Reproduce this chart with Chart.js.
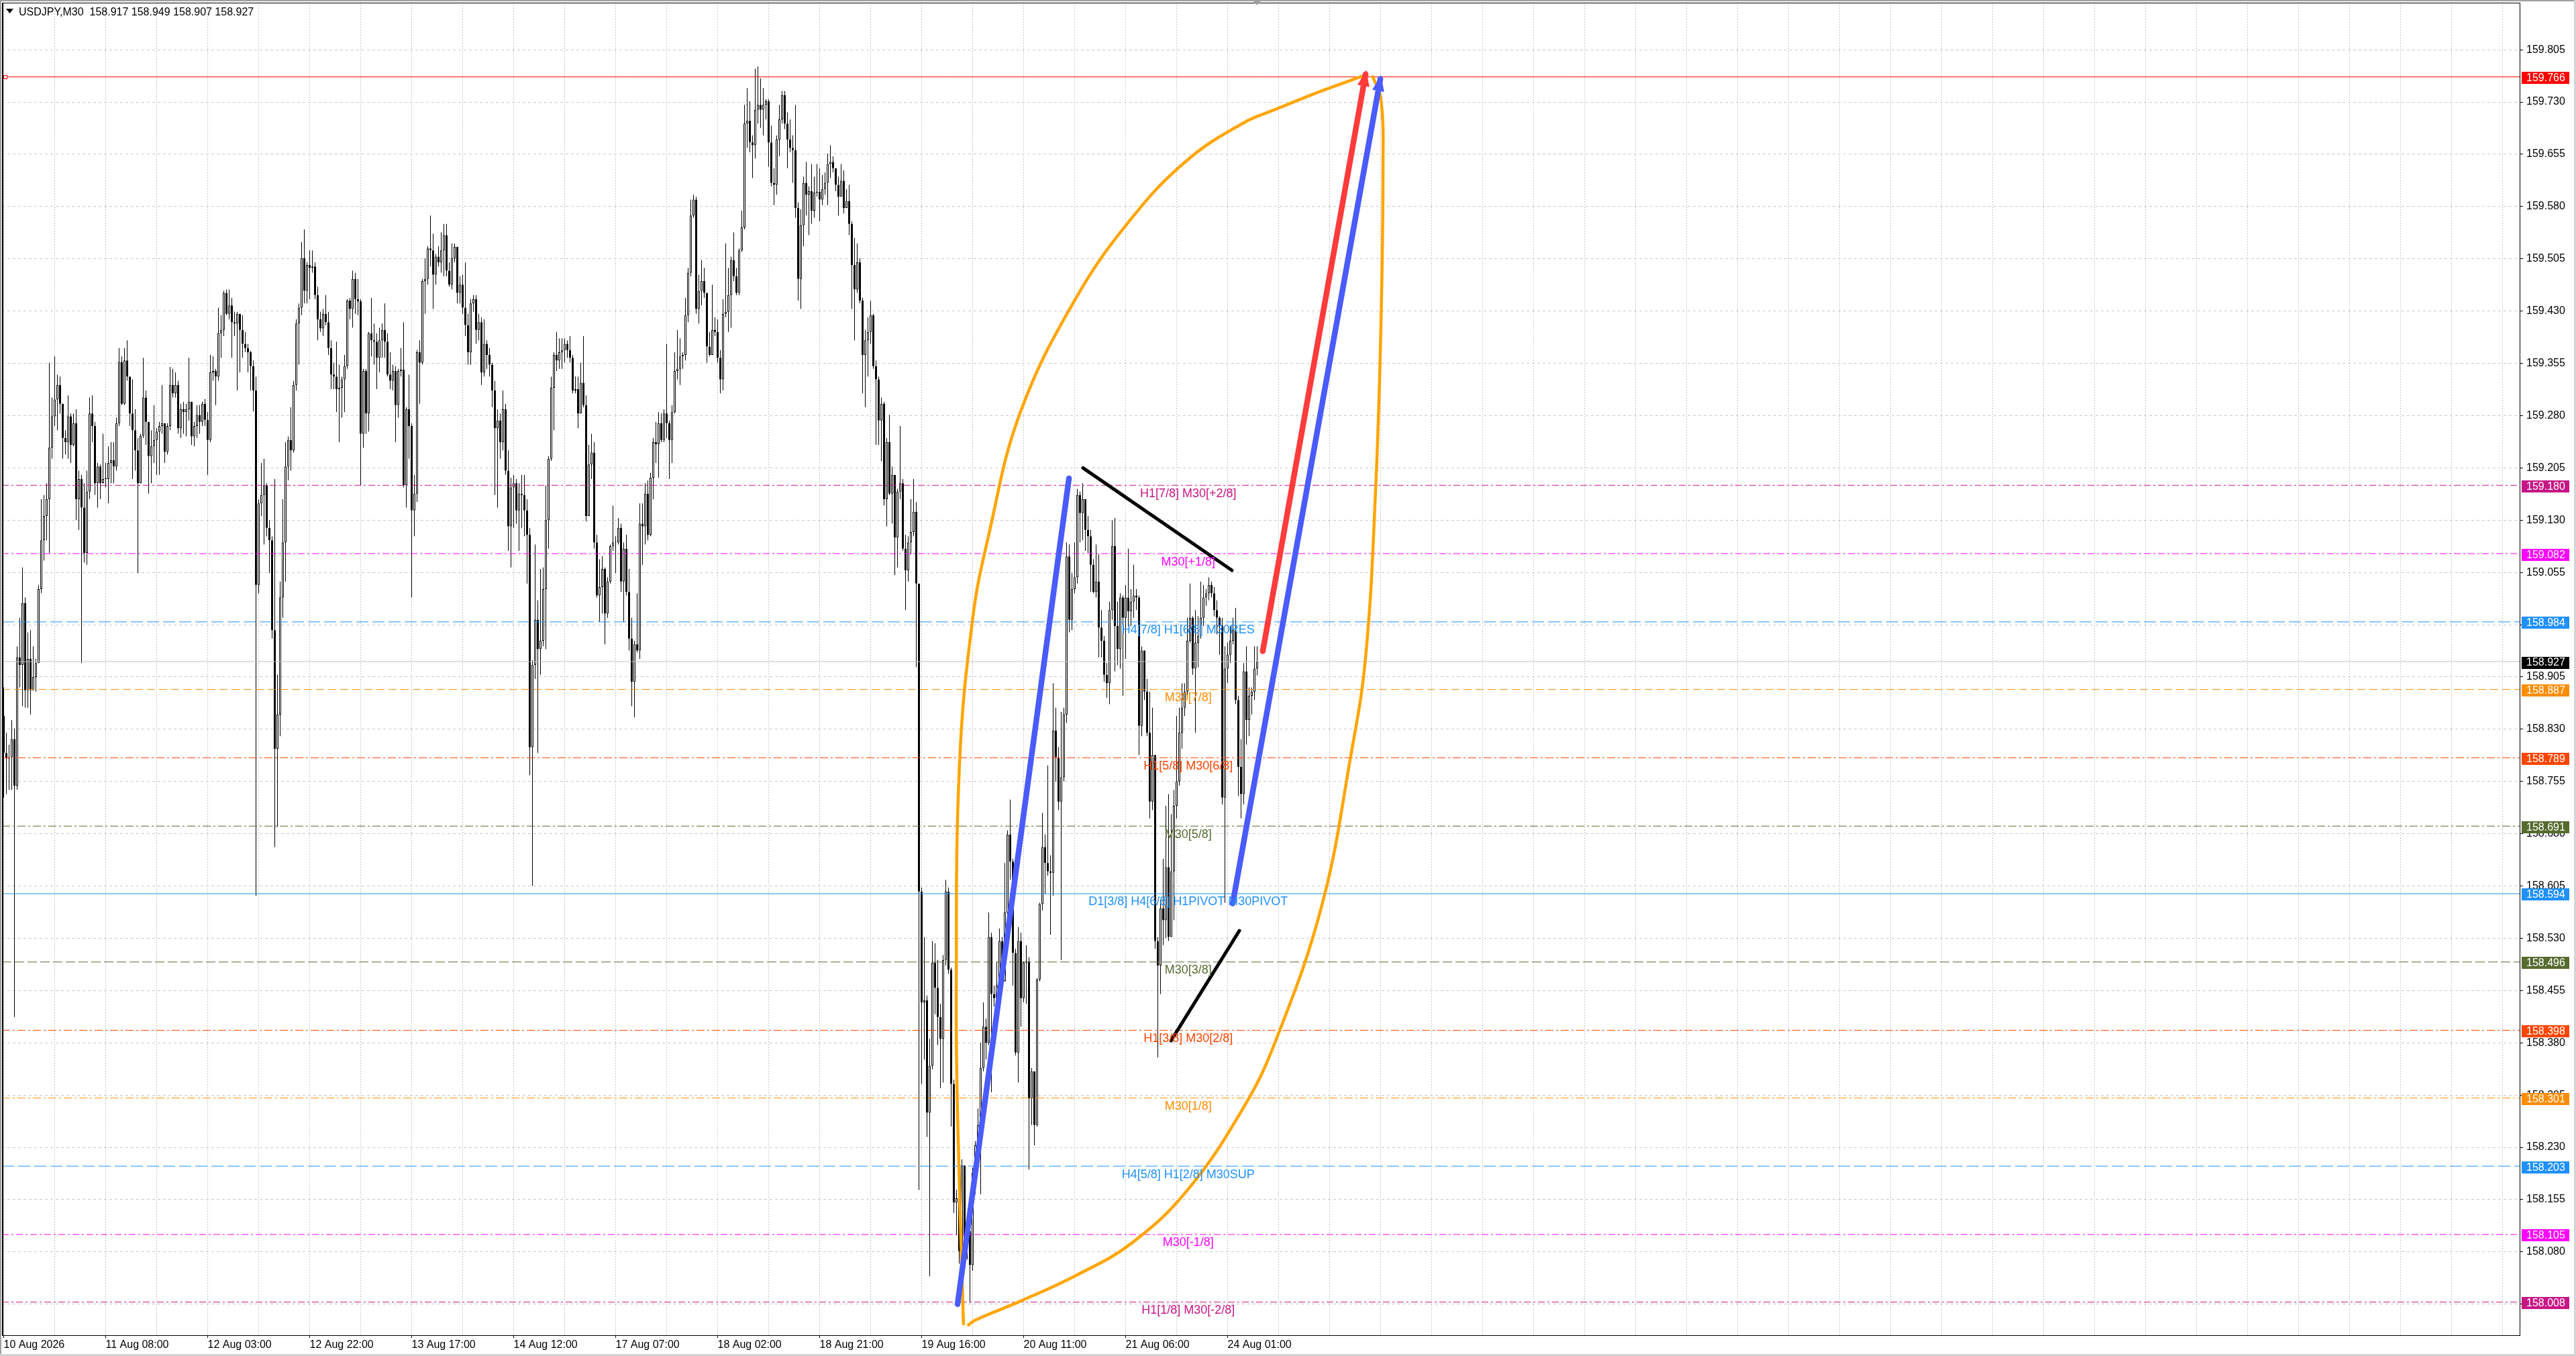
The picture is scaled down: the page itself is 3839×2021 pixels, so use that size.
<!DOCTYPE html>
<html><head><meta charset="utf-8">
<script src="https://cdn.jsdelivr.net/npm/chart.js"></script>
<style>html,body{margin:0;padding:0;background:#fff;overflow:hidden}canvas{display:block}</style>
</head><body>
<canvas id="c" width="3839" height="2021" style="width:3839px;height:2021px"></canvas>
<script>
// ---------- DATA ----------
const symbolTitle = 'USDJPY,M30  158.917 158.949 158.907 158.927';
const firstOpen = 158.849;
const closes = [
158.796,158.788,158.790,158.816,158.749,158.933,158.922,159.011,158.886,158.931,
158.886,158.905,158.925,159.031,159.101,159.136,159.160,159.234,159.279,159.303,
159.324,159.297,159.248,159.242,159.279,159.238,159.269,159.160,159.189,159.148,
159.083,159.171,159.283,159.265,159.183,159.207,159.183,159.189,159.189,159.212,
159.216,159.207,159.269,159.357,159.297,159.359,159.336,159.283,159.259,159.230,
159.183,159.251,159.306,159.271,159.222,159.236,159.245,159.257,159.265,159.269,
159.228,159.265,159.324,159.312,159.324,159.262,159.289,159.285,159.289,159.300,
159.250,159.265,159.281,159.271,159.297,159.274,159.245,159.342,159.344,159.336,
159.398,159.403,159.456,159.426,159.438,159.414,159.412,159.426,159.403,159.383,
159.377,159.371,159.351,159.316,159.037,159.154,159.166,159.180,159.119,159.101,
158.972,158.802,158.851,159.019,159.098,159.207,159.245,159.230,159.324,159.412,
159.435,159.506,159.459,159.496,159.492,159.494,159.453,159.418,159.405,159.426,
159.414,159.377,159.339,159.336,159.318,159.320,159.332,159.351,159.445,159.433,
159.476,159.447,159.444,159.254,159.344,159.283,159.398,159.388,159.386,159.363,
159.388,159.403,159.386,159.339,159.330,159.344,159.295,159.344,159.346,159.180,
159.289,159.265,159.144,159.168,159.371,159.356,159.473,159.476,159.520,159.517,
159.482,159.508,159.500,159.517,159.539,159.488,159.468,159.506,159.522,159.456,
159.468,159.435,159.410,159.371,159.441,159.447,159.403,159.414,159.342,159.383,
159.367,159.353,159.316,159.262,159.273,159.242,159.289,159.201,159.121,159.177,
159.183,159.144,159.168,159.166,159.144,159.109,158.804,158.922,158.987,158.945,
158.957,159.031,159.130,159.218,159.320,159.367,159.359,159.371,159.374,159.383,
159.374,159.363,159.316,159.318,159.283,159.327,159.295,159.136,159.210,159.227,
159.098,159.022,159.034,159.060,158.996,159.042,159.093,159.098,159.098,159.119,
159.042,159.089,159.027,158.960,158.898,158.952,158.943,159.125,159.121,159.168,
159.109,159.191,159.242,159.239,159.269,159.245,159.283,159.269,159.245,159.285,
159.344,159.347,159.365,159.367,159.424,159.485,159.567,159.590,159.433,159.459,
159.473,159.456,159.379,159.367,159.403,159.400,159.363,159.332,159.426,159.429,
159.453,159.503,159.480,159.456,159.517,159.550,159.699,159.703,159.672,159.668,
159.719,159.726,159.719,159.726,159.731,159.672,159.614,159.611,159.676,159.705,
159.740,159.699,159.676,159.664,159.661,159.578,159.476,159.553,159.614,159.597,
159.602,159.574,159.600,159.601,159.590,159.605,159.614,159.641,159.644,159.635,
159.611,159.594,159.617,159.578,159.588,159.555,159.496,159.461,159.500,159.445,
159.367,159.388,159.400,159.424,159.351,159.332,159.273,159.297,159.160,159.242,
159.168,159.195,159.105,159.171,159.183,159.089,159.058,159.098,159.113,159.142,
159.039,158.597,158.438,158.441,158.280,158.347,158.495,158.459,158.417,158.386,
158.499,158.597,158.485,158.321,158.151,158.157,158.081,158.204,158.092,158.110,
158.061,158.194,158.233,158.262,158.344,158.403,158.380,158.532,158.450,158.444,
158.462,158.526,158.468,158.567,158.679,158.640,158.509,158.366,158.526,158.444,
158.495,158.497,158.300,158.339,158.262,158.471,158.579,158.661,158.638,158.626,
158.624,158.828,158.790,158.726,158.761,158.851,159.078,158.987,159.031,159.048,
159.166,159.140,159.160,159.116,159.107,159.066,159.027,159.042,158.976,158.957,
158.908,158.896,159.001,159.093,158.978,158.945,159.019,158.990,159.019,158.999,
159.013,159.022,159.019,158.835,158.943,158.884,158.825,158.726,158.793,158.526,
158.491,158.573,158.556,158.632,158.532,158.626,158.720,158.755,158.825,158.861,
158.884,158.957,158.990,158.917,158.954,158.964,158.990,159.019,159.025,159.037,
159.025,159.001,158.990,158.978,158.732,158.917,158.937,158.957,158.972,158.872,
158.776,158.737,158.913,158.843,158.878,158.884,158.917,158.927];
const highs = [
158.890,158.825,158.808,158.843,158.831,158.949,158.990,159.062,159.019,158.969,
158.972,158.949,158.931,159.037,159.160,159.166,159.183,159.356,159.306,159.365,
159.339,159.336,159.271,159.259,159.309,159.283,159.283,159.289,159.201,159.195,
159.183,159.201,159.306,159.309,159.271,159.212,159.210,159.254,159.212,159.236,
159.242,159.242,159.277,159.377,159.365,159.377,159.388,159.336,159.332,159.289,
159.248,159.254,159.363,159.316,159.271,159.259,159.295,159.262,159.271,159.324,
159.259,159.269,159.350,159.347,159.342,159.330,159.297,159.300,159.297,159.363,
159.277,159.271,159.295,159.295,159.300,159.304,159.285,159.367,159.365,159.347,
159.435,159.424,159.459,159.461,159.461,159.449,159.429,159.429,159.426,159.424,
159.400,159.383,159.373,159.359,159.336,159.160,159.212,159.218,159.183,159.130,
159.107,159.189,158.908,159.042,159.160,159.242,159.250,159.292,159.330,159.418,
159.441,159.529,159.547,159.500,159.517,159.517,159.500,159.465,159.429,159.433,
159.453,159.429,159.388,159.356,159.386,159.353,159.336,159.367,159.447,159.449,
159.488,159.485,159.476,159.447,159.347,159.347,159.400,159.449,159.412,159.398,
159.406,159.412,159.441,159.398,159.371,159.353,159.351,159.347,159.377,159.414,
159.292,159.339,159.269,159.195,159.374,159.388,159.476,159.506,159.523,159.567,
159.541,159.512,159.523,159.543,159.555,159.555,159.500,159.527,159.527,159.515,
159.480,159.482,159.500,159.426,159.447,159.453,159.453,159.426,159.421,159.418,
159.388,159.377,159.356,159.330,159.289,159.283,159.316,159.297,159.230,159.191,
159.195,159.189,159.183,159.195,159.195,159.160,159.119,158.929,159.095,159.015,
159.060,159.062,159.180,159.222,159.336,159.371,159.400,159.391,159.391,159.391,
159.388,159.394,159.367,159.336,159.336,159.356,159.394,159.309,159.238,159.254,
159.242,159.109,159.074,159.078,159.062,159.048,159.095,159.151,159.107,159.133,
159.125,159.098,159.109,159.060,158.990,158.957,159.025,159.154,159.154,159.183,
159.187,159.198,159.248,159.271,159.285,159.283,159.289,159.383,159.273,159.295,
159.371,159.403,159.391,159.371,159.449,159.492,159.590,159.597,159.594,159.482,
159.503,159.492,159.438,159.400,159.468,159.421,159.418,159.374,159.447,159.527,
159.492,159.508,159.543,159.492,159.520,159.574,159.726,159.750,159.731,159.682,
159.778,159.781,159.764,159.750,159.734,159.734,159.696,159.635,159.682,159.726,
159.746,159.746,159.715,159.705,159.682,159.726,159.586,159.576,159.623,159.644,
159.609,159.641,159.623,159.641,159.635,159.625,159.629,159.656,159.668,159.652,
159.635,159.623,159.641,159.632,159.605,159.611,159.559,159.535,159.527,159.506,
159.449,159.403,159.421,159.445,159.426,159.359,159.336,159.306,159.300,159.248,
159.281,159.207,159.177,159.175,159.265,159.189,159.109,159.107,159.160,159.189,
159.156,159.039,158.603,158.532,158.448,158.386,158.526,158.523,158.499,158.436,
158.506,158.614,158.603,158.488,158.327,158.169,158.159,158.213,158.204,158.122,
158.110,158.201,158.239,158.286,158.380,158.438,158.415,158.567,158.538,158.462,
158.497,158.544,158.532,158.638,158.685,158.729,158.644,158.515,158.546,158.538,
158.497,158.520,158.503,158.344,158.339,158.473,158.581,158.710,158.679,158.778,
158.649,158.896,158.861,158.804,158.855,158.861,159.098,159.095,159.054,159.098,
159.175,159.171,159.183,159.160,159.136,159.116,159.074,159.095,159.081,159.001,
158.964,158.925,159.013,159.130,159.133,159.013,159.025,159.022,159.037,159.089,
159.031,159.066,159.031,159.022,158.949,158.925,158.902,158.884,158.861,158.790,
158.532,158.585,158.644,158.720,158.737,158.708,158.743,158.849,158.861,158.896,
158.896,158.990,159.039,158.992,159.001,158.992,159.042,159.037,159.031,159.048,
159.042,159.034,159.015,158.992,158.990,158.949,158.954,158.978,158.990,159.004,
158.878,158.816,158.925,158.949,158.890,158.890,158.949,158.949];
const lows = [
158.732,158.737,158.743,158.743,158.417,158.743,158.890,158.863,158.861,158.861,
158.851,158.896,158.884,158.925,159.025,159.072,159.101,159.083,159.218,159.265,
159.259,159.283,159.218,159.224,159.218,159.212,159.236,159.130,159.116,158.925,
159.069,159.066,159.160,159.242,159.166,159.148,159.160,159.183,159.177,159.154,
159.183,159.183,159.201,159.265,159.295,159.295,159.330,159.265,159.189,159.201,
159.054,159.183,159.248,159.238,159.168,159.183,159.212,159.195,159.195,159.254,
159.212,159.224,159.259,159.306,159.306,159.254,159.248,159.254,159.250,159.273,
159.238,159.236,159.248,159.254,159.265,159.265,159.195,159.242,159.330,159.295,
159.330,159.363,159.394,159.424,159.418,159.363,159.394,159.316,159.342,159.363,
159.371,159.342,159.316,159.286,158.591,159.025,159.136,159.095,159.107,159.054,
158.960,158.661,158.690,158.820,158.990,159.042,159.187,159.201,159.227,159.316,
159.353,159.424,159.441,159.441,159.447,159.485,159.447,159.388,159.400,159.394,
159.410,159.367,159.318,159.318,159.285,159.242,159.277,159.285,159.347,159.418,
159.406,159.426,159.424,159.180,159.234,159.254,159.257,159.365,159.353,159.318,
159.342,159.363,159.363,159.336,159.318,159.316,159.242,159.277,159.336,159.177,
159.148,159.218,159.019,159.107,159.156,159.297,159.353,159.426,159.468,159.494,
159.433,159.468,159.494,159.485,159.480,159.480,159.465,159.461,159.500,159.441,
159.441,159.426,159.394,159.353,159.353,159.429,159.383,159.388,159.324,159.336,
159.347,159.336,159.292,159.166,159.148,159.218,159.230,159.195,159.086,159.062,
159.119,159.125,159.086,159.119,159.107,159.039,158.764,158.605,158.902,158.796,
158.908,158.949,158.945,159.089,159.215,159.259,159.344,159.347,159.347,159.356,
159.363,159.356,159.312,159.312,159.262,159.283,159.292,159.128,159.136,159.189,
159.089,159.019,158.984,158.996,158.952,158.990,159.039,159.086,159.054,159.095,
159.027,158.984,159.022,158.943,158.863,158.847,158.940,158.931,159.066,159.095,
159.101,159.107,159.160,159.212,159.191,159.242,159.242,159.248,159.189,159.212,
159.283,159.332,159.324,159.347,159.359,159.414,159.480,159.564,159.426,159.412,
159.438,159.449,159.356,159.365,159.386,159.394,159.356,159.312,159.316,159.421,
159.400,159.406,159.473,159.453,159.453,159.515,159.547,159.664,159.658,159.621,
159.649,159.699,159.693,159.682,159.705,159.637,159.609,159.582,159.597,159.652,
159.699,159.691,159.635,159.658,159.614,159.564,159.445,159.433,159.523,159.567,
159.539,159.555,159.564,159.594,159.559,159.582,159.597,159.582,159.621,159.629,
159.602,159.567,159.605,159.570,159.578,159.539,159.433,159.388,159.456,159.441,
159.312,159.292,159.336,159.383,159.347,159.238,159.238,159.215,159.151,159.121,
159.166,159.125,159.051,159.062,159.160,159.086,159.001,159.042,159.081,159.107,
158.919,158.169,158.321,158.356,158.245,158.045,158.342,158.421,158.377,158.315,
158.323,158.491,158.479,158.260,158.136,158.104,158.063,158.016,158.075,158.069,
158.007,158.053,158.163,158.227,158.163,158.339,158.356,158.377,158.309,158.432,
158.438,158.456,158.462,158.468,158.556,158.614,158.462,158.362,158.323,158.403,
158.438,158.436,158.198,158.262,158.233,158.260,158.468,158.570,158.593,158.620,
158.535,158.591,158.755,158.714,158.499,158.755,158.839,158.969,158.972,159.025,
159.039,159.098,159.101,159.086,159.083,159.027,159.025,159.019,158.933,158.933,
158.898,158.875,158.866,158.987,158.913,158.922,158.917,158.878,158.931,158.978,
158.978,158.990,159.001,158.793,158.820,158.872,158.820,158.702,158.714,158.515,
158.359,158.450,158.520,158.530,158.526,158.532,158.556,158.702,158.749,158.802,
158.849,158.878,158.954,158.908,158.825,158.919,158.960,158.978,159.007,159.015,
159.019,158.992,158.966,158.937,158.722,158.581,158.896,158.925,158.952,158.866,
158.734,158.702,158.722,158.808,158.820,158.851,158.872,158.907];

const timeLabels = ['10 Aug 2026','11 Aug 08:00','12 Aug 03:00','12 Aug 22:00','13 Aug 17:00','14 Aug 12:00','17 Aug 07:00','18 Aug 02:00','18 Aug 21:00','19 Aug 16:00','20 Aug 11:00','21 Aug 06:00','24 Aug 01:00'];
const barsPerLabel = 38, barsPerGrid = 19;
const yTickValues = [158.005,158.080,158.155,158.230,158.305,158.380,158.455,158.530,158.605,158.680,158.755,158.830,158.905,158.980,159.055,159.130,159.205,159.280,159.355,159.430,159.505,159.580,159.655,159.730,159.805];

const levelPrices = [159.766,159.180,159.082,158.984,158.927,158.887,158.789,158.691,158.594,158.496,158.398,158.301,158.203,158.105,158.008];
const levelTexts  = ['','H1[7/8] M30[+2/8]','M30[+1/8]','H4[7/8] H1[6/8] M30RES','','M30[7/8]','H1[5/8] M30[6/8]','M30[5/8]','D1[3/8] H4[6/8] H1PIVOT M30PIVOT','M30[3/8]','H1[3/8] M30[2/8]','M30[1/8]','H4[5/8] H1[2/8] M30SUP','M30[-1/8]','H1[1/8] M30[-2/8]'];
const levelColors = ['#ff0000','#c71585','#ff00ff','#1e90ff','#c0c0c0','#ff8c00','#ff4500','#556b2f','#1e90ff','#556b2f','#ff4500','#ff8c00','#1e90ff','#ff00ff','#c71585'];
const levelBoxColors = ['#ff0000','#c71585','#ff00ff','#1e90ff','#000000','#ff8c00','#ff4500','#556b2f','#1e90ff','#556b2f','#ff4500','#ff8c00','#1e90ff','#ff00ff','#c71585'];
const levelDashes = [[],[10,4,3,4],[10,4,3,4],[18,6],[],[12,6],[12,4,3,4],[12,4,3,4],[],[14,5],[12,4,3,4],[12,4,3,4],[18,6],[10,4,3,4],[10,4,3,4]];
const levelTextBar = 441.3;

// drawn objects (bar index, price)
const arcUpperBars   = [357.6,355.4,354.9,356.1,361.1,366.9,378.6,399.4,420.4,441.1,461.9,473.6,491.1,508.4];
const arcUpperPrices = [157.975,158.275,158.450,158.779,158.991,159.107,159.283,159.448,159.564,159.647,159.700,159.719,159.746,159.770];
const arcLowerBars   = [359.1,361.9,378.6,399.4,420.4,441.1,461.9,473.6,491.1,501.9,507.4,511.1,513.1,513.9,513.1,509.9];
const arcLowerPrices = [157.974,157.982,158.009,158.046,158.093,158.169,158.287,158.380,158.577,158.792,158.933,159.170,159.405,159.640,159.735,159.768];
const blueLineA = [[355.4,158.005],[396.9,159.190]];
const blueLineB = [[457.9,158.580],[512.9,159.763]];
const redLine   = [[469.1,158.942],[507.4,159.770]];
const blackLineA = [[402.1,159.205],[457.6,159.058]];
const blackLineB = [[434.9,158.383],[460.4,158.541]];

// ---------- BUILD ----------
const X_MIN = -0.625, X_MAX = 937.625;
const opens = closes.map((c,i)=> i===0 ? firstOpen : closes[i-1]);
const wickData = closes.map((c,i)=>({x:i, y:[Math.min(lows[i],opens[i],c), Math.max(highs[i],opens[i],c)]}));
const bodyData = closes.map((c,i)=>({x:i, y:[opens[i], c]}));
const bodyFill = closes.map((c,i)=> c>=opens[i] ? '#ffffff' : '#000000');
const pts = a => a.map(p=>({x:p[0], y:p[1]}));
const zip = (xs,ys) => xs.map((v,k)=>({x:v, y:ys[k]}));

const datasets = [];
datasets.push({type:'bar', data:wickData, backgroundColor:'#000', borderWidth:0, barThickness:1, grouped:false, inflateAmount:0, order:20});
datasets.push({type:'bar', data:bodyData, backgroundColor:bodyFill, borderColor:'#000', borderWidth:1, borderSkipped:false, barThickness:3, minBarLength:1, grouped:false, inflateAmount:0, order:19});
levelPrices.forEach((p,k)=>{
  datasets.push({type:'line', data:[{x:X_MIN,y:p},{x:X_MAX,y:p}], borderColor:levelColors[k], borderWidth:1, borderDash:levelDashes[k], pointRadius:0, fill:false, order:10});
});
datasets.push({type:'line', data:zip(arcUpperBars,arcUpperPrices), borderColor:'#ffa500', borderWidth:4.5, tension:0.4, pointRadius:0, fill:false, order:3});
datasets.push({type:'line', data:zip(arcLowerBars,arcLowerPrices), borderColor:'#ffa500', borderWidth:4.5, tension:0.4, pointRadius:0, fill:false, order:3});
[[blackLineA,'#000000',5],[blackLineB,'#000000',5],[blueLineA,'#4a5bff',8.5],[blueLineB,'#4a5bff',8.5],[redLine,'#ff3b3b',8.5]].forEach(([l,c,w])=>{
  datasets.push({type:'line', data:pts(l), borderColor:c, borderWidth:w, borderCapStyle:'round', pointRadius:0, fill:false, tension:0, order:2});
});

const FONT = '"Liberation Sans", Arial, sans-serif';
Chart.defaults.font.family = FONT;
Chart.defaults.font.size = 16;
Chart.defaults.color = '#000';

function arrowHead(ctx, xs, ys, seg, color){
  const x0 = xs.getPixelForValue(seg[0][0]), y0 = ys.getPixelForValue(seg[0][1]);
  const x1 = xs.getPixelForValue(seg[1][0]), y1 = ys.getPixelForValue(seg[1][1]);
  const a = Math.atan2(y1-y0, x1-x0);
  const L = 24, W = 9;
  const tx = x1 + Math.cos(a)*6, ty = y1 + Math.sin(a)*6;
  ctx.beginPath();
  ctx.moveTo(tx, ty);
  ctx.lineTo(tx - L*Math.cos(a) + W*Math.sin(a), ty - L*Math.sin(a) - W*Math.cos(a));
  ctx.lineTo(tx - L*Math.cos(a) - W*Math.sin(a), ty - L*Math.sin(a) + W*Math.cos(a));
  ctx.closePath();
  ctx.fillStyle = color; ctx.fill();
}

const overlay = {
  id:'overlay',
  afterDatasetsDraw(chart){
    const {ctx, chartArea:ca} = chart; const xs = chart.scales.x, ys = chart.scales.y;
    ctx.save();
    ctx.beginPath(); ctx.rect(ca.left, ca.top, ca.right-ca.left, ca.bottom-ca.top); ctx.clip();
    ctx.font = '18px ' + FONT; ctx.textAlign = 'center'; ctx.textBaseline = 'alphabetic';
    const tx = xs.getPixelForValue(levelTextBar);
    levelPrices.forEach((p,k)=>{
      if(!levelTexts[k]) return;
      ctx.fillStyle = levelColors[k];
      ctx.fillText(levelTexts[k], tx, ys.getPixelForValue(p) + 17.5);
    });
    arrowHead(ctx, xs, ys, redLine, '#ff3b3b');
    arrowHead(ctx, xs, ys, blueLineB, '#4a5bff');
    ctx.restore();
  },
  afterDraw(chart){
    const {ctx, chartArea:ca} = chart; const ys = chart.scales.y; const xs = chart.scales.x;
    ctx.save();
    ctx.fillStyle = '#a0a0a0';
    ctx.fillRect(0,0,3839,2); ctx.fillRect(0,0,2,2021);
    ctx.fillStyle = '#d4d4d4'; ctx.fillRect(0,2018,3839,3); ctx.fillRect(3836,0,3,2021);
    ctx.strokeStyle = '#000'; ctx.lineWidth = 1;
    ctx.strokeRect(ca.left+0.5, ca.top+0.5, ca.right-ca.left-1, ca.bottom-ca.top);
    ctx.fillStyle='#000'; ctx.fillRect(ca.left, ca.top, 2, ca.bottom-ca.top);
    const ry = ys.getPixelForValue(levelPrices[0]);
    ctx.strokeStyle = '#ff0000'; ctx.fillStyle='#fff';
    ctx.fillRect(5.5, Math.round(ry)-2.5, 5, 5); ctx.strokeRect(5.5, Math.round(ry)-2.5, 5, 5);
    const sx = xs.getPixelForValue(closes.length-1);
    ctx.fillStyle = '#a0a0a0';
    ctx.beginPath(); ctx.moveTo(sx-6,1); ctx.lineTo(sx+6,1); ctx.lineTo(sx,8); ctx.closePath(); ctx.fill();
    ctx.font = '16px ' + FONT; ctx.textAlign='left'; ctx.textBaseline='middle';
    levelPrices.forEach((p,k)=>{
      const yc = ys.getPixelForValue(p) + 1.5;
      ctx.fillStyle = levelBoxColors[k];
      ctx.fillRect(ca.right+2, Math.round(yc-9), 71, 18);
      ctx.fillStyle = '#ffffff';
      ctx.fillText(p.toFixed(3), ca.right+9, yc+0.5);
    });
    ctx.fillStyle = '#000';
    ctx.beginPath(); ctx.moveTo(9,13); ctx.lineTo(20,13); ctx.lineTo(14.5,20); ctx.closePath(); ctx.fill();
    ctx.font = '16px ' + FONT; ctx.textBaseline='alphabetic'; ctx.textAlign='left';
    ctx.fillText(symbolTitle, 28, 23);
    ctx.restore();
  }
};

const gridBars = []; for(let v=0; v<=X_MAX; v+=barsPerGrid) gridBars.push(v);

new Chart(document.getElementById('c'), {
  type:'bar',
  data:{datasets},
  options:{
    responsive:false, animation:false, devicePixelRatio:1, events:[],
    layout:{padding:{left:3, top:4, right:0, bottom:0}},
    plugins:{legend:{display:false}, tooltip:{enabled:false}, title:{display:false}},
    scales:{
      x:{
        type:'linear', min:X_MIN, max:X_MAX, offset:false,
        grid:{offset:false, color:'#c8c8c8', lineWidth:1, drawTicks:true, tickLength:4,
              tickColor: c => (c.tick && c.tick.label) ? '#000' : 'rgba(0,0,0,0)'},
        border:{display:false, dash:[2,2]},
        afterBuildTicks: s => { s.ticks = gridBars.map(v=>({value:v})); },
        ticks:{autoSkip:false, maxRotation:0, minRotation:0, align:'start', padding:1, color:'#000', font:{size:16},
          callback: v => (v % barsPerLabel === 0 && v/barsPerLabel < timeLabels.length) ? timeLabels[v/barsPerLabel] : ''},
        afterFit: s => { s.height = 31; s.paddingLeft = 0; s.paddingRight = 0; }
      },
      y:{
        type:'linear', position:'right', min:157.9605, max:159.8725,
        grid:{color:'#c8c8c8', lineWidth:1, drawTicks:true, tickLength:4, tickColor:'#000'},
        border:{display:false, dash:[4,4]},
        afterBuildTicks: s => { s.ticks = yTickValues.map(v=>({value:v})); },
        ticks:{crossAlign:'near', padding:5, color:'#000', font:{size:16}, callback: v => Number(v).toFixed(3)},
        afterFit: s => { s.width = 83; s.paddingTop = 0; s.paddingBottom = 0; }
      }
    }
  },
  plugins:[overlay]
});
</script>
</body></html>
